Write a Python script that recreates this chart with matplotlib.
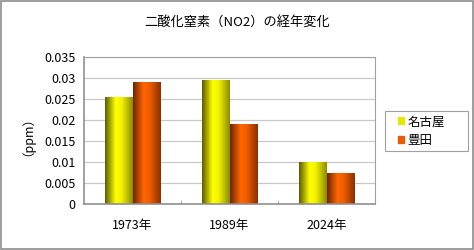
import numpy as np
import matplotlib
matplotlib.use('Agg')
from matplotlib import pyplot as plt
from matplotlib.colors import LinearSegmentedColormap
from matplotlib.patches import Rectangle

plt.rcParams['font.family'] = ['Noto Sans CJK JP', 'DejaVu Sans']

# データ
years = ['1973年', '1989年', '2024年']
nagoya = [0.0255, 0.0295, 0.0100]
toyota = [0.0290, 0.0190, 0.0074]
series_names = ['名古屋', '豊田']
yticks = [0, 0.005, 0.01, 0.015, 0.02, 0.025, 0.03, 0.035]
ytick_labels = ['0', '0.005', '0.01', '0.015', '0.02', '0.025', '0.03', '0.035']

yellow_cmap = LinearSegmentedColormap.from_list(
    'yel', [(0, '#5e5e00'), (0.38, '#ffff00'), (0.6, '#f2f200'), (1, '#8c8c00')])
orange_cmap = LinearSegmentedColormap.from_list(
    'ora', [(0, '#6e2500'), (0.38, '#ff6600'), (0.6, '#f05c00'), (1, '#8a3000')])


def gradient_bars(ax, bars, cmap):
    grad = np.linspace(0, 1, 64).reshape(1, -1)
    for b in bars:
        x0, y0 = b.get_x(), b.get_y()
        w, h = b.get_width(), b.get_height()
        b.set_facecolor('none')
        im = ax.imshow(grad, cmap=cmap, aspect='auto', extent=[x0, x0 + w, y0, y0 + h],
                       zorder=2, interpolation='bilinear')
        im.set_clip_path(b)


fig = plt.figure(figsize=(4.74, 2.5), dpi=100)
fig.patch.set_facecolor('white')
# 外枠
fig.add_artist(Rectangle((0.002, 0.004), 0.996, 0.992, transform=fig.transFigure,
                         fill=False, edgecolor='#8c8c8c', linewidth=1.2))

ax = fig.add_axes([84 / 474, 1 - 204 / 250, 291 / 474, 147 / 250])

x = np.arange(len(years))
w = 0.285
b1 = ax.bar(x - w / 2, nagoya, w, color='#ffff00', label=series_names[0], zorder=2, linewidth=0)
b2 = ax.bar(x + w / 2, toyota, w, color='#ff6600', label=series_names[1], zorder=2, linewidth=0)
gradient_bars(ax, b1, yellow_cmap)
gradient_bars(ax, b2, orange_cmap)

ax.set_xlim(-0.5, 2.5)
ax.set_ylim(0, 0.035)
ax.set_yticks(yticks)
ax.set_yticklabels(ytick_labels)
ax.set_xticks(x)
ax.set_xticklabels(years)
ax.set_xticks([0.5, 1.5], minor=True)
ax.tick_params(axis='x', which='major', length=0, pad=11, labelsize=9)
ax.tick_params(axis='x', which='minor', length=3, direction='in', color='#a0a0a0')
ax.tick_params(axis='y', length=0, pad=6, labelsize=9)
ax.yaxis.grid(True, color='#c8c8c8', linewidth=0.9, zorder=0)
ax.set_axisbelow(True)
for s in ['top', 'right']:
    ax.spines[s].set_color('#a0a0a0')
    ax.spines[s].set_linewidth(0.8)
for s in ['left', 'bottom']:
    ax.spines[s].set_color('#909090')
    ax.spines[s].set_linewidth(1.2)

ax.set_ylabel('（ppm）', fontsize=9, labelpad=2)
ax.yaxis.set_label_coords(-0.19, 0.5)

fig.text(0.5, 1 - 22 / 250, '二酸化窒素（NO2）の経年変化', ha='center', va='center', fontsize=9.5)

# 凡例の枠
fig.add_artist(Rectangle((385 / 474, 1 - 151 / 250), 83 / 474, 40 / 250, transform=fig.transFigure,
                         fill=False, edgecolor='#a0a0a0', linewidth=0.8))
leg = fig.legend(handles=[Rectangle((0, 0), 1, 1, color='#e6e600'), Rectangle((0, 0), 1, 1, color='#e65c00')],
                 labels=series_names, loc='center left', bbox_to_anchor=(398 / 474, 1 - 131 / 250),
                 fontsize=9, frameon=False, handlelength=0.45, handleheight=0.45,
                 handletextpad=0.3, borderpad=0, borderaxespad=0, labelspacing=0.45)

fig.savefig('out.png', dpi=100)
